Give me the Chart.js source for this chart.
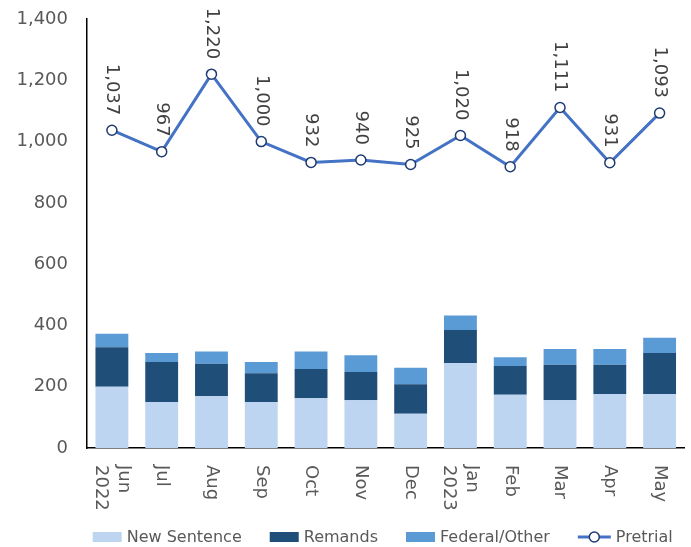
<!DOCTYPE html>
<html>
<head>
<meta charset="utf-8">
<script src="https://cdn.jsdelivr.net/npm/chart.js@4/dist/chart.umd.min.js"></script>
<style>
  html, body { margin: 0; padding: 0; background: #ffffff; }
  #wrap { width: 691px; height: 547px; }
</style>
</head>
<body>
<div id="wrap"><canvas id="c" width="691" height="547"></canvas></div>
<script>
// ---- data ----
const months = [['Jun', '2022'], ['Jul'], ['Aug'], ['Sep'], ['Oct'], ['Nov'], ['Dec'], ['Jan', '2023'], ['Feb'], ['Mar'], ['Apr'], ['May']];
const newSentence = [200, 150, 169, 150, 162, 156, 112, 277, 174, 156, 176, 176];
const remands = [129, 131, 106, 94, 96, 92, 96, 108, 94, 116, 96, 134];
const federalOther = [44, 29, 40, 37, 57, 55, 54, 47, 28, 51, 51, 50];
const pretrial = [1037, 967, 1220, 1000, 932, 940, 925, 1020, 918, 1111, 931, 1093];
const yTicks = [0, 200, 400, 600, 800, 1000, 1200, 1400];

const FONT = '"DejaVu Sans", sans-serif';
const TEXT = '#595959';

const xLabelPlugin = {
  id: 'xLabels',
  afterDraw(chart) {
    const ctx = chart.ctx;
    const xs = chart.scales.x;
    const top = chart.chartArea.bottom + 17;
    ctx.save();
    ctx.font = '18px ' + FONT;
    ctx.fillStyle = TEXT;
    ctx.textAlign = 'left';
    ctx.textBaseline = 'middle';
    months.forEach((lines, i) => {
      const x = xs.getPixelForTick(i);
      const lh = 23;
      ctx.save();
      ctx.translate(x, top);
      ctx.rotate(Math.PI / 2);
      const n = lines.length;
      lines.forEach((t, j) => {
        const off = (j - (n - 1) / 2) * lh;
        ctx.fillText(t, 0, off);
      });
      ctx.restore();
    });
    ctx.restore();
  }
};

const dataLabelPlugin = {
  id: 'pointLabels',
  afterDatasetsDraw(chart) {
    const ctx = chart.ctx;
    const idx = chart.data.datasets.findIndex(d => d.type === 'line');
    const meta = chart.getDatasetMeta(idx);
    const vals = chart.data.datasets[idx].data;
    ctx.save();
    ctx.font = '18px ' + FONT;
    ctx.fillStyle = '#404040';
    ctx.textAlign = 'right';
    ctx.textBaseline = 'middle';
    meta.data.forEach((pt, i) => {
      ctx.save();
      ctx.translate(pt.x, pt.y - 15);
      ctx.rotate(Math.PI / 2);
      ctx.fillText(vals[i].toLocaleString('en-US'), 0, 0);
      ctx.restore();
    });
    ctx.restore();
  }
};

const legendPlugin = {
  id: 'customLegend',
  afterDraw(chart) {
    const ctx = chart.ctx;
    const ds = chart.data.datasets;
    ctx.save();
    ctx.font = '16px ' + FONT;
    const boxW = 29, boxH = 10, textGap = 5, itemGap = 28;
    const items = ds.map(d => ({
      d,
      w: boxW + (d.type === 'line' ? 4 : 0) + textGap + ctx.measureText(d.label).width
    }));
    const total = items.reduce((s, it) => s + it.w, 0) + itemGap * (items.length - 1);
    const ca = chart.chartArea;
    let x = (ca.left + ca.right) / 2 - total / 2 - 3;
    const y = 537;
    ctx.textBaseline = 'middle';
    ctx.textAlign = 'left';
    items.forEach(it => {
      const d = it.d;
      let bw = boxW;
      if (d.type === 'line') {
        bw = boxW + 4;
        ctx.strokeStyle = d.borderColor;
        ctx.lineWidth = 3;
        ctx.beginPath();
        ctx.moveTo(x, y);
        ctx.lineTo(x + bw, y);
        ctx.stroke();
        ctx.beginPath();
        ctx.arc(x + bw / 2, y, 5, 0, Math.PI * 2);
        ctx.fillStyle = d.pointBackgroundColor;
        ctx.fill();
        ctx.lineWidth = 1.5;
        ctx.strokeStyle = d.pointBorderColor;
        ctx.stroke();
      } else {
        ctx.fillStyle = d.backgroundColor;
        ctx.fillRect(x, y - boxH / 2, bw, boxH);
      }
      ctx.fillStyle = TEXT;
      ctx.fillText(d.label, x + bw + textGap, y + 1);
      x += it.w + itemGap;
    });
    ctx.restore();
  }
};

new Chart(document.getElementById('c'), {
  data: {
    labels: months,
    datasets: [
      { type: 'bar', label: 'New Sentence', data: newSentence, backgroundColor: '#BDD5F0', stack: 's', order: 2 },
      { type: 'bar', label: 'Remands', data: remands, backgroundColor: '#1F4E79', stack: 's', order: 2 },
      { type: 'bar', label: 'Federal/Other', data: federalOther, backgroundColor: '#5B9BD5', stack: 's', order: 2 },
      { type: 'line', label: 'Pretrial', data: pretrial, borderColor: '#4472C4', borderWidth: 3,
        pointRadius: 5, pointBackgroundColor: '#ffffff', pointBorderColor: '#1F3B73', pointBorderWidth: 1.5,
        tension: 0, order: 1 }
    ]
  },
  options: {
    responsive: false,
    animation: false,
    devicePixelRatio: 1,
    layout: { padding: { top: 19, right: 5, bottom: 99, left: 0 } },
    datasets: { bar: { categoryPercentage: 1, barPercentage: 0.66 } },
    plugins: { legend: { display: false }, tooltip: { enabled: false } },
    scales: {
      x: {
        stacked: true,
        offset: true,
        grid: { display: false, drawTicks: false },
        border: { display: true, color: '#000000', width: 1.5 },
        ticks: { display: false }
      },
      y: {
        stacked: true,
        min: 0,
        max: 1400,
        afterBuildTicks: s => { s.ticks = yTicks.map(v => ({ value: v })); },
        afterFit: s => { s.width = 87; s.paddingTop = 0; s.paddingBottom = 0; },
        grid: { display: false, drawTicks: false },
        border: { display: true, color: '#000000', width: 1.5 },
        ticks: { padding: 19, color: TEXT, font: { family: FONT, size: 18 } }
      }
    }
  },
  plugins: [xLabelPlugin, dataLabelPlugin, legendPlugin]
});
</script>
</body>
</html>
